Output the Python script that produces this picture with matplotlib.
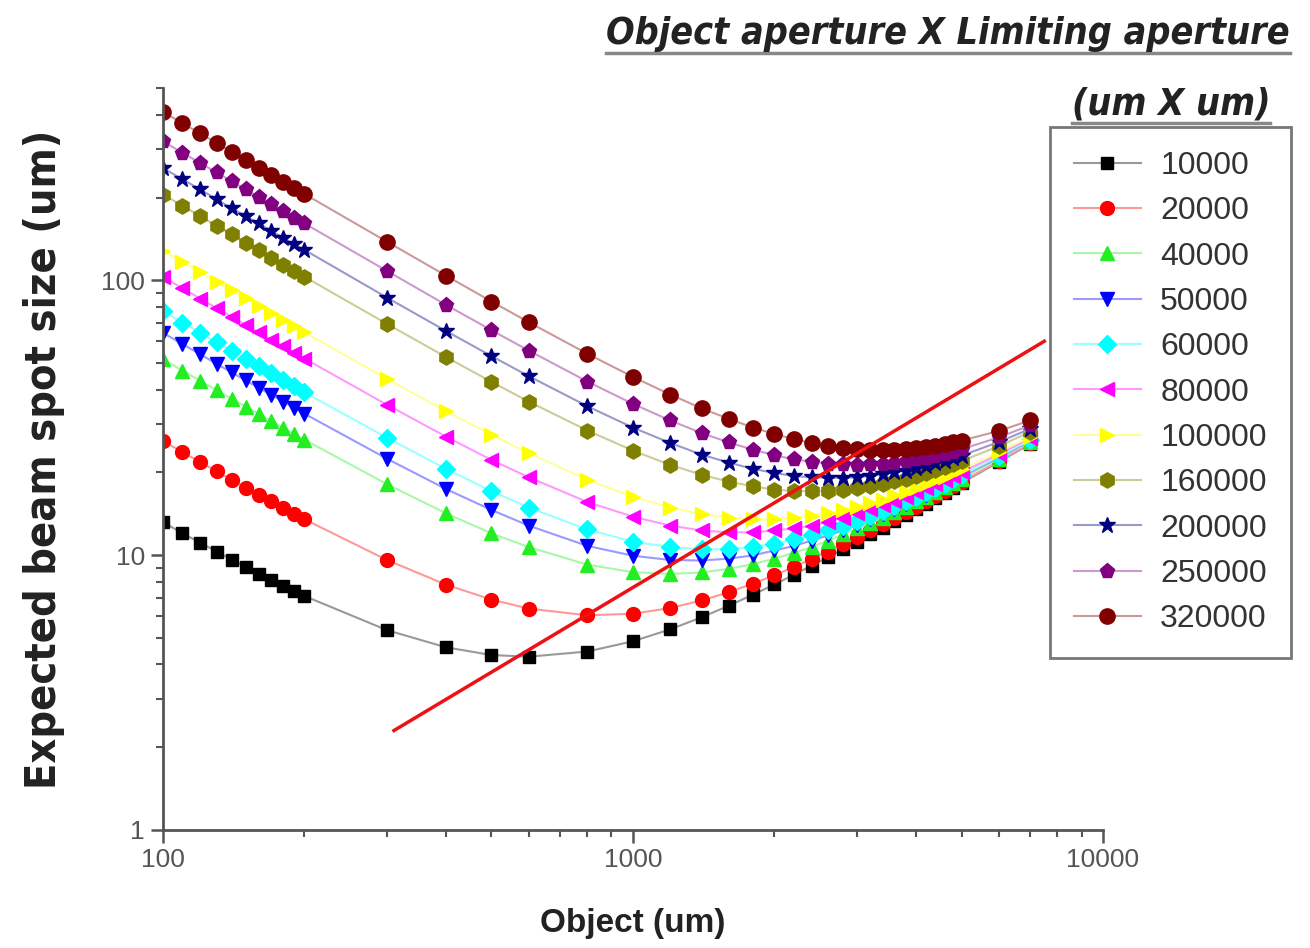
import matplotlib
matplotlib.use("Agg")
import matplotlib.pyplot as plt
from matplotlib.colors import to_rgb
from matplotlib.lines import Line2D
from matplotlib.transforms import IdentityTransform

# object aperture positions (um)
x_obj = [100, 110, 120, 130, 140, 150, 160, 170, 180, 190, 200,
         300, 400, 500, 600, 800,
         1000, 1200, 1400, 1600, 1800, 2000, 2200, 2400, 2600, 2800, 3000,
         3200, 3400, 3600, 3800, 4000, 4200, 4400, 4600, 4800, 5000,
         6000, 7000]

labels = ["10000", "20000", "40000", "50000", "60000", "80000",
          "100000", "160000", "200000", "250000", "320000"]

s10000 = [13.2, 12.0, 11.1, 10.3, 9.64, 9.06, 8.56, 8.13, 7.75, 7.41, 7.10,
          5.33, 4.62, 4.33, 4.27, 4.46,
          4.86, 5.37, 5.94, 6.55, 7.18, 7.82, 8.49, 9.16, 9.84, 10.5, 11.2,
          11.9, 12.6, 13.3, 14.0, 14.7, 15.4, 16.1, 16.8, 17.5, 18.3,
          21.8, 25.4]
s20000 = [26.0, 23.7, 21.8, 20.2, 18.8, 17.6, 16.6, 15.7, 14.9, 14.1, 13.5,
          9.59, 7.81, 6.89, 6.39, 6.04,
          6.12, 6.42, 6.84, 7.33, 7.88, 8.45, 9.06, 9.68, 10.3, 11.0, 11.6,
          12.3, 13.0, 13.7, 14.3, 15.0, 15.7, 16.4, 17.1, 17.8, 18.5,
          22.0, 25.6]
s40000 = [51.6, 46.9, 43.1, 39.8, 37.1, 34.7, 32.6, 30.7, 29.1, 27.6, 26.3,
          18.1, 14.2, 12.0, 10.7, 9.23,
          8.67, 8.54, 8.65, 8.91, 9.28, 9.71, 10.2, 10.7, 11.3, 11.9, 12.5,
          13.1, 13.7, 14.4, 15.0, 15.7, 16.3, 17.0, 17.7, 18.3, 19.0,
          22.4, 25.9]
s50000 = [64.4, 58.6, 53.8, 49.7, 46.2, 43.2, 40.6, 38.3, 36.2, 34.4, 32.7,
          22.4, 17.4, 14.6, 12.8, 10.8,
          9.95, 9.60, 9.56, 9.71, 9.98, 10.4, 10.8, 11.3, 11.8, 12.3, 12.9,
          13.5, 14.1, 14.7, 15.3, 16.0, 16.6, 17.3, 17.9, 18.6, 19.3,
          22.6, 26.1]
s60000 = [77.2, 70.2, 64.4, 59.5, 55.4, 51.7, 48.6, 45.8, 43.3, 41.1, 39.1,
          26.7, 20.6, 17.1, 14.9, 12.4,
          11.2, 10.7, 10.5, 10.5, 10.7, 11.0, 11.4, 11.8, 12.3, 12.8, 13.3,
          13.9, 14.5, 15.1, 15.7, 16.3, 16.9, 17.6, 18.2, 18.9, 19.5,
          22.9, 26.3]
s80000 = [103, 93.5, 85.8, 79.2, 73.6, 68.8, 64.6, 60.8, 57.5, 54.6, 51.9,
          35.2, 27.0, 22.2, 19.2, 15.6,
          13.8, 12.8, 12.3, 12.1, 12.1, 12.3, 12.5, 12.8, 13.2, 13.7, 14.2,
          14.7, 15.2, 15.8, 16.3, 16.9, 17.5, 18.1, 18.7, 19.4, 20.0,
          23.3, 26.6]
s100000 = [128, 117, 107, 98.9, 91.9, 85.9, 80.6, 75.9, 71.7, 68.0, 64.7,
           43.7, 33.4, 27.4, 23.5, 18.8,
           16.3, 14.9, 14.1, 13.7, 13.5, 13.5, 13.7, 13.9, 14.2, 14.6, 15.0,
           15.5, 15.9, 16.5, 17.0, 17.5, 18.1, 18.7, 19.3, 19.9, 20.5,
           23.7, 27.0]
s160000 = [205, 187, 171, 158, 147, 137, 129, 121, 114, 108, 103,
           69.3, 52.6, 42.7, 36.2, 28.4,
           24.0, 21.3, 19.6, 18.5, 17.8, 17.3, 17.1, 17.1, 17.1, 17.3, 17.5,
           17.8, 18.2, 18.6, 19.0, 19.4, 19.9, 20.4, 20.9, 21.5, 22.0,
           24.9, 28.1]
s200000 = [256, 233, 214, 197, 183, 171, 161, 151, 143, 135, 129,
           86.4, 65.4, 53.0, 44.8, 34.8,
           29.1, 25.6, 23.2, 21.7, 20.6, 19.9, 19.4, 19.2, 19.1, 19.1, 19.2,
           19.4, 19.7, 20.0, 20.3, 20.7, 21.1, 21.6, 22.0, 22.5, 23.0,
           25.8, 28.8]
s250000 = [320, 291, 267, 247, 229, 214, 201, 189, 178, 169, 161,
           108, 81.4, 65.8, 55.5, 42.8,
           35.5, 30.9, 27.8, 25.7, 24.2, 23.1, 22.3, 21.9, 21.5, 21.4, 21.3,
           21.4, 21.5, 21.7, 22.0, 22.3, 22.6, 23.0, 23.4, 23.8, 24.3,
           26.8, 29.7]
s320000 = [410, 373, 342, 316, 293, 274, 257, 242, 228, 216, 206,
           138, 104, 83.7, 70.4, 54.0,
           44.5, 38.4, 34.2, 31.3, 29.1, 27.6, 26.4, 25.6, 25.0, 24.6, 24.3,
           24.2, 24.1, 24.2, 24.3, 24.5, 24.7, 25.0, 25.3, 25.7, 26.1,
           28.3, 30.9]

series = [s10000, s20000, s40000, s50000, s60000, s80000,
          s100000, s160000, s200000, s250000, s320000]

# red guide line
line_x = [310, 7500]
line_y = [2.3, 60]

colors = ["#000000", "#ff0000", "#22ee22", "#0000ff", "#00ffff", "#ff00ff",
          "#ffff00", "#808000", "#000080", "#800080", "#800000"]
markers = ["s", "o", "^", "v", "D", "<", ">", "h", "*", "p", "o"]
msizes = [9, 10, 10, 10, 9, 10, 10, 11, 12, 11, 11]


def pale(c, f=0.6):
    r, g, b = to_rgb(c)
    return (r + (1 - r) * f, g + (1 - g) * f, b + (1 - b) * f)


fig = plt.figure(figsize=(13.1, 9.48), dpi=100)
ax = fig.add_axes([0.1244, 0.1245, 0.7176, 0.7825])

for lab, ys, c, m, ms in zip(labels, series, colors, markers, msizes):
    ax.plot(x_obj, ys, color=pale(c), lw=1.5, marker=m, ms=ms,
            mfc=c, mec=c, label=lab)

ax.plot(line_x, line_y, color="#ee1111", lw=2.5, zorder=5)

ax.set_xscale("log")
ax.set_yscale("log")
ax.set_xlim(100, 10000)
ax.set_ylim(1, 500)
ax.set_xticks([100, 1000, 10000])
ax.set_xticklabels(["100", "1000", "10000"])
ax.set_yticks([1, 10, 100])
ax.set_yticklabels(["1", "10", "100"])

for side in ["top", "right"]:
    ax.spines[side].set_visible(False)
for side in ["left", "bottom"]:
    ax.spines[side].set_color("#555555")
    ax.spines[side].set_linewidth(2)
ax.tick_params(which="major", length=9, width=1.8, color="#555555",
               labelsize=19, labelcolor="#555555", pad=4)
ax.tick_params(which="minor", length=5, width=1.5, color="#555555")
for t in ax.get_xticklabels() + ax.get_yticklabels():
    t.set_family(["Liberation Sans", "DejaVu Sans"])

ax.set_ylabel("Expected beam spot size (um)", fontsize=31, fontweight="bold",
              family=["Liberation Sans Narrow", "DejaVu Sans"],
              fontstretch="condensed", color="#222222", labelpad=26)
ax.set_xlabel("Object (um)", fontsize=24, fontweight="bold",
              family=["Liberation Sans", "DejaVu Sans"], color="#222222",
              labelpad=26)

leg = fig.legend(loc="upper left", bbox_to_anchor=(0.8015, 0.866),
                 bbox_transform=fig.transFigure, borderaxespad=0,
                 frameon=True, fancybox=False, framealpha=1,
                 edgecolor="#777777", handlelength=2.1, labelspacing=0.48,
                 borderpad=0.75, handletextpad=0.6,
                 prop={"family": ["Liberation Sans", "DejaVu Sans"], "size": 23})
leg.get_frame().set_linewidth(2)
for t in leg.get_texts():
    t.set_color("#333333")

head = dict(fontsize=27, fontweight="bold", style="italic",
            family=["Liberation Sans Narrow", "DejaVu Sans"],
            fontstretch="condensed", color="#222222", ha="right")
t1 = fig.text(1290 / 1310, 1 - 44 / 948, "Object aperture X Limiting aperture",
              va="baseline", **head)
t2 = fig.text(1270 / 1310, 1 - 114 / 948, "(um X um)", va="baseline", **head)

fig.canvas.draw()
for t in (t1, t2):
    bb = t.get_window_extent()
    yline = bb.y0 - 1
    fig.add_artist(Line2D([bb.x0, bb.x1], [yline, yline], color="#888888",
                          lw=2.5, transform=IdentityTransform()))

fig.savefig("out.png", dpi=100)
